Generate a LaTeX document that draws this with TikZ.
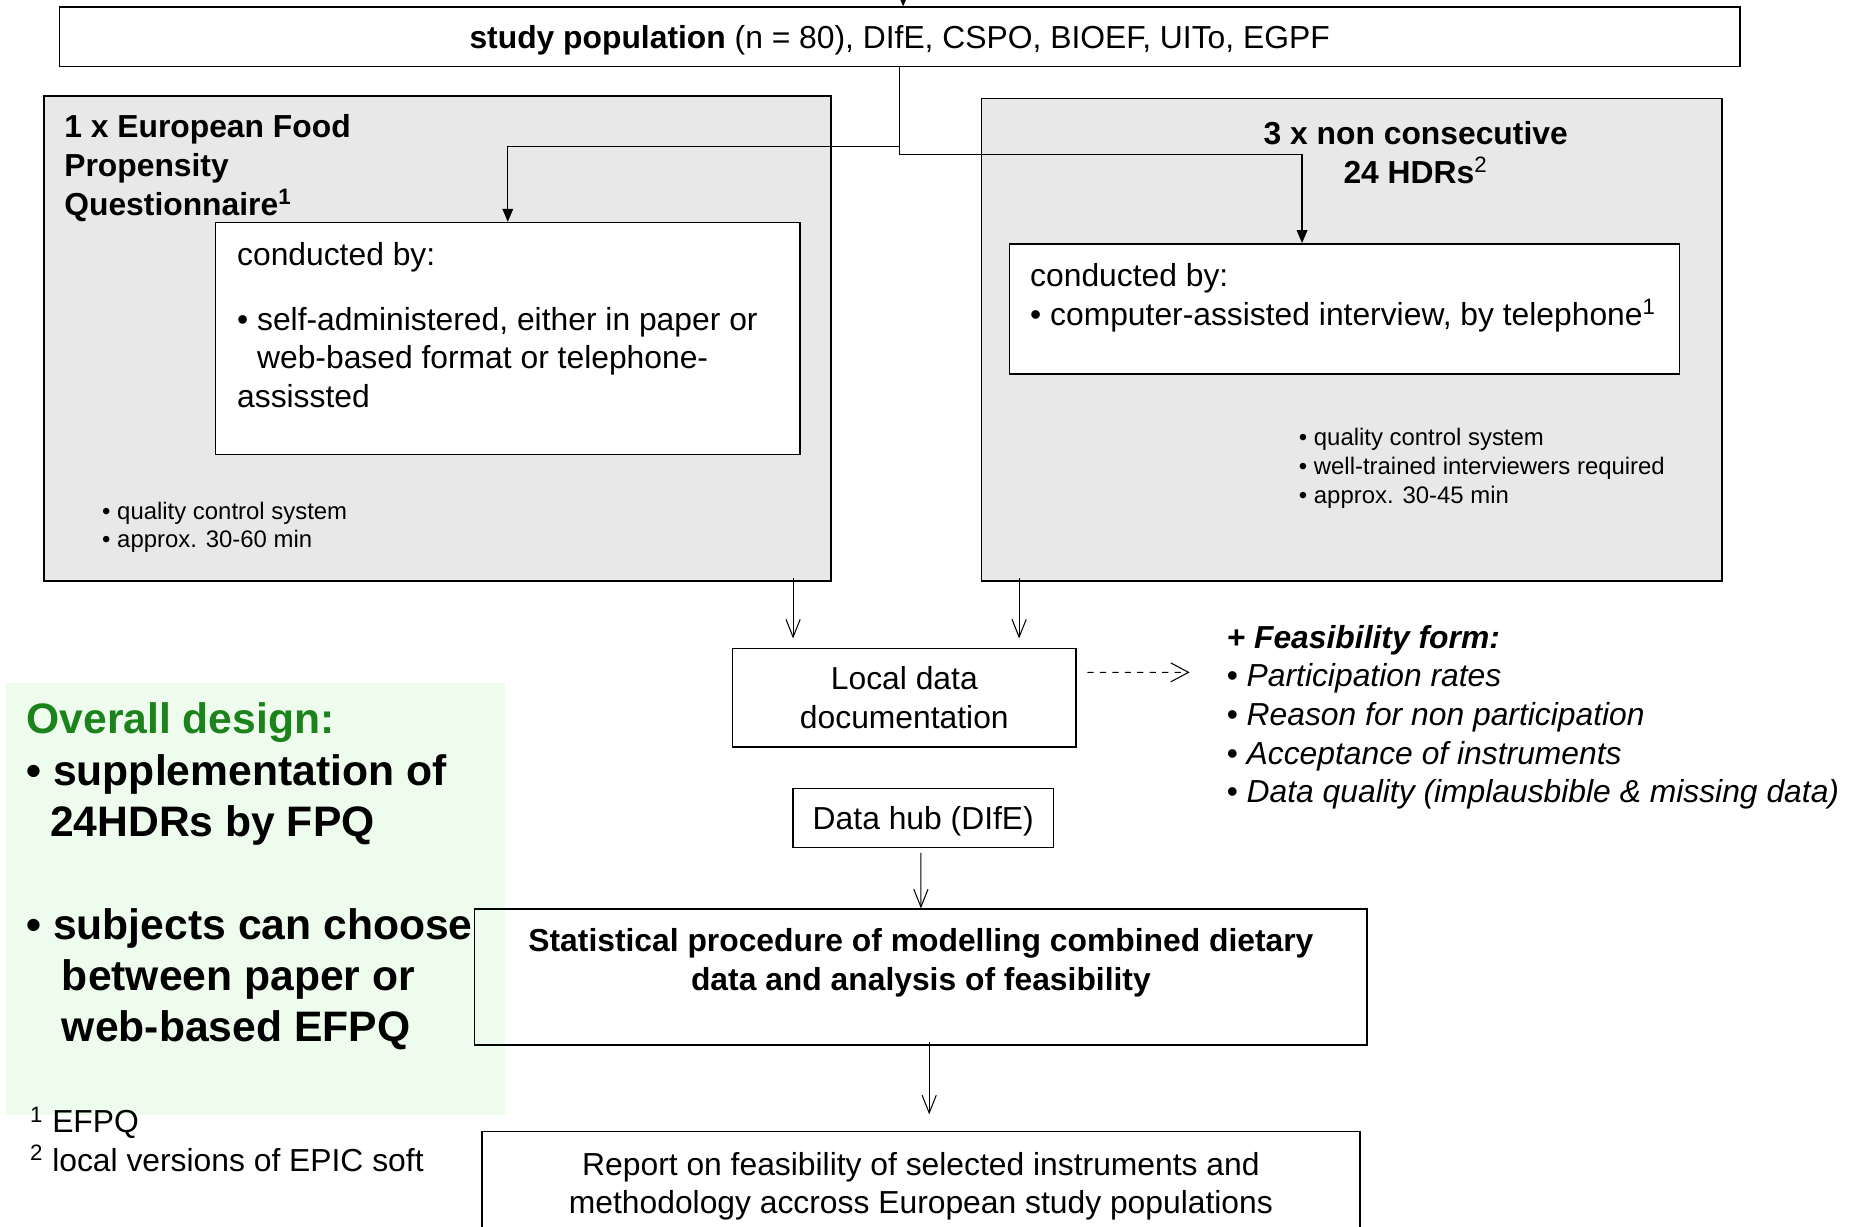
\documentclass[tikz,border=0pt]{standalone}
\usepackage{fontspec}
\setmainfont{Liberation Sans}
\usetikzlibrary{arrows.meta}
\definecolor{BoxGrey}{RGB}{232,232,232}
\definecolor{DesignGreen}{RGB}{28,130,28}
\definecolor{DesignBack}{RGB}{238,252,238}
\newcommand{\bodysize}{\fontsize{15.3}{18.6}\selectfont}
\newcommand{\notesize}{\fontsize{11.5}{13.8}\selectfont}
\newcommand{\designsize}{\fontsize{20.5}{24.7}\selectfont}

\begin{document}
\begin{tikzpicture}[x=0.02cm, y=-0.02cm, font=\bodysize,
    box/.style={draw, line width=0.7pt, inner sep=0pt},
    greybox/.style={box, fill=BoxGrey},
    whitebox/.style={box, fill=white},
    txt/.style={inner sep=0pt, anchor=west, align=left, yshift=-0.05cm},
    tri/.style={-{Triangle[length=2.2mm,width=1.8mm]}, line width=0.6pt},
    barb/.style={-{Straight Barb[length=3mm,width=2.4mm]}, line width=0.5pt}]
  \useasboundingbox (0,0) rectangle (1568,1036);
  \clip (0,0) rectangle (1568,1036);
  \fill[DesignBack] (5,577) rectangle (427,942);

  \node[box, text depth=0pt, minimum width=28.4cm, minimum height=1cm] (top) at (760,31) {\textbf{study population} (n = 80), DIfE, CSPO, BIOEF, UITo, EGPF};

  \node[greybox, minimum width=13.3cm, minimum height=8.2cm] (lgrey) at (369.5,286) {};
  \node[greybox, minimum width=12.52cm, minimum height=8.16cm] (rgrey) at (1142,287) {};
  \node[txt, font=\bodysize\bfseries] (efpq) at (54,139.5) {1 x European Food\\Propensity\\Questionnaire\textsuperscript{1}};
  \node[inner sep=0pt, align=center, font=\bodysize\bfseries] (hdr) at (1196,129) {3 x non consecutive\\24 HDRs\textsuperscript{\mdseries 2}};

  \node[whitebox, minimum width=9.88cm, minimum height=3.92cm] (lin) at (429,286) {};
  \node[txt] (lcond) at (200,215) {conducted by:};
  \node[txt, yshift=0.05cm] (lmode) at (200,302) {• self-administered, either in paper or\\\hphantom{• }web-based format or telephone-\\assissted};
  \node[txt, font=\notesize] (lnote) at (86,443) {• quality control system\\• approx. 30-60 min};

  \node[whitebox, minimum width=11.32cm, minimum height=2.2cm] (rin) at (1136,261) {};
  \node[txt] (rcond) at (870,233) {conducted by:};
  \node[txt] (rmode) at (870,264) {• computer-assisted interview, by telephone\textsuperscript{1}};
  \node[txt, font=\notesize] (rnote) at (1097,393) {• quality control system\\• well-trained interviewers required\\• approx. 30-45 min};

  \node[whitebox, minimum width=5.8cm, minimum height=1.66cm, align=center] (loc) at (764,589.5) {Local data\\documentation};
  \node[whitebox, text depth=0pt, minimum width=4.4cm, minimum height=1cm] (hub) at (780,691) {Data hub (DIfE)};
  \node[box, minimum width=15.08cm, minimum height=2.3cm] (stat) at (778,825.5) {};
  \node[inner sep=0pt, align=center, font=\bodysize\bfseries] (stattxt) at (778,813.5) {Statistical procedure of modelling combined dietary\\data and analysis of feasibility};
  \node[box, text depth=0pt, minimum width=14.84cm, minimum height=1.74cm, align=center] (rep) at (778,999.5) {Report on feasibility of selected instruments and\\methodology accross European study populations};

  \node[txt, font=\bodysize\itshape] (feas) at (1036,603.5) {\textbf{+ Feasibility form:}\\• Participation rates\\• Reason for non participation\\• Acceptance of instruments\\• Data quality (implausbible \& missing data)};
  \node[txt, font=\designsize\bfseries] (design) at (22,738) {\textcolor{DesignGreen}{Overall design:}\\• supplementation of\\\hspace*{0.4cm}24HDRs by FPQ\\[24.7pt]• subjects can choose\\\hspace*{0.6cm}between paper or\\\hspace*{0.6cm}web-based EFPQ};
  \node[txt, yshift=0.07cm] (fn) at (25,963.5) {\textsuperscript{1} EFPQ\\\textsuperscript{2} local versions of EPIC soft};

  \coordinate (entry) at (763,-30);
  \coordinate (formtip) at (1005,568);
  \draw[tri] (entry) -- (entry |- top.north);
  \draw[tri] (top.south) -- ++(0,67) -| (lin.north);
  \draw[tri] (top.south) -- ++(0,74) -| ([xshift=-0.72cm]rin.north);
  \draw[barb] ([xshift=-1.88cm]loc.north |- lgrey.south) ++(0,-3) -- ([xshift=-1.88cm,yshift=.16cm]loc.north);
  \draw[barb] ([xshift=1.94cm]loc.north |- rgrey.south) ++(0,-3) -- ([xshift=1.94cm,yshift=.16cm]loc.north);
  \draw[barb, dashed, -{Straight Barb[length=3mm,width=3.2mm]}] ([xshift=.18cm,yshift=.43cm]loc.east) -- (formtip);
  \draw[barb] ([xshift=-.04cm,yshift=-.08cm]hub.south) -- (stat.north);
  \draw[barb] ([xshift=.14cm,yshift=.06cm]stat.south) -- ([xshift=.14cm,yshift=.28cm]rep.north);
\end{tikzpicture}
\end{document}
